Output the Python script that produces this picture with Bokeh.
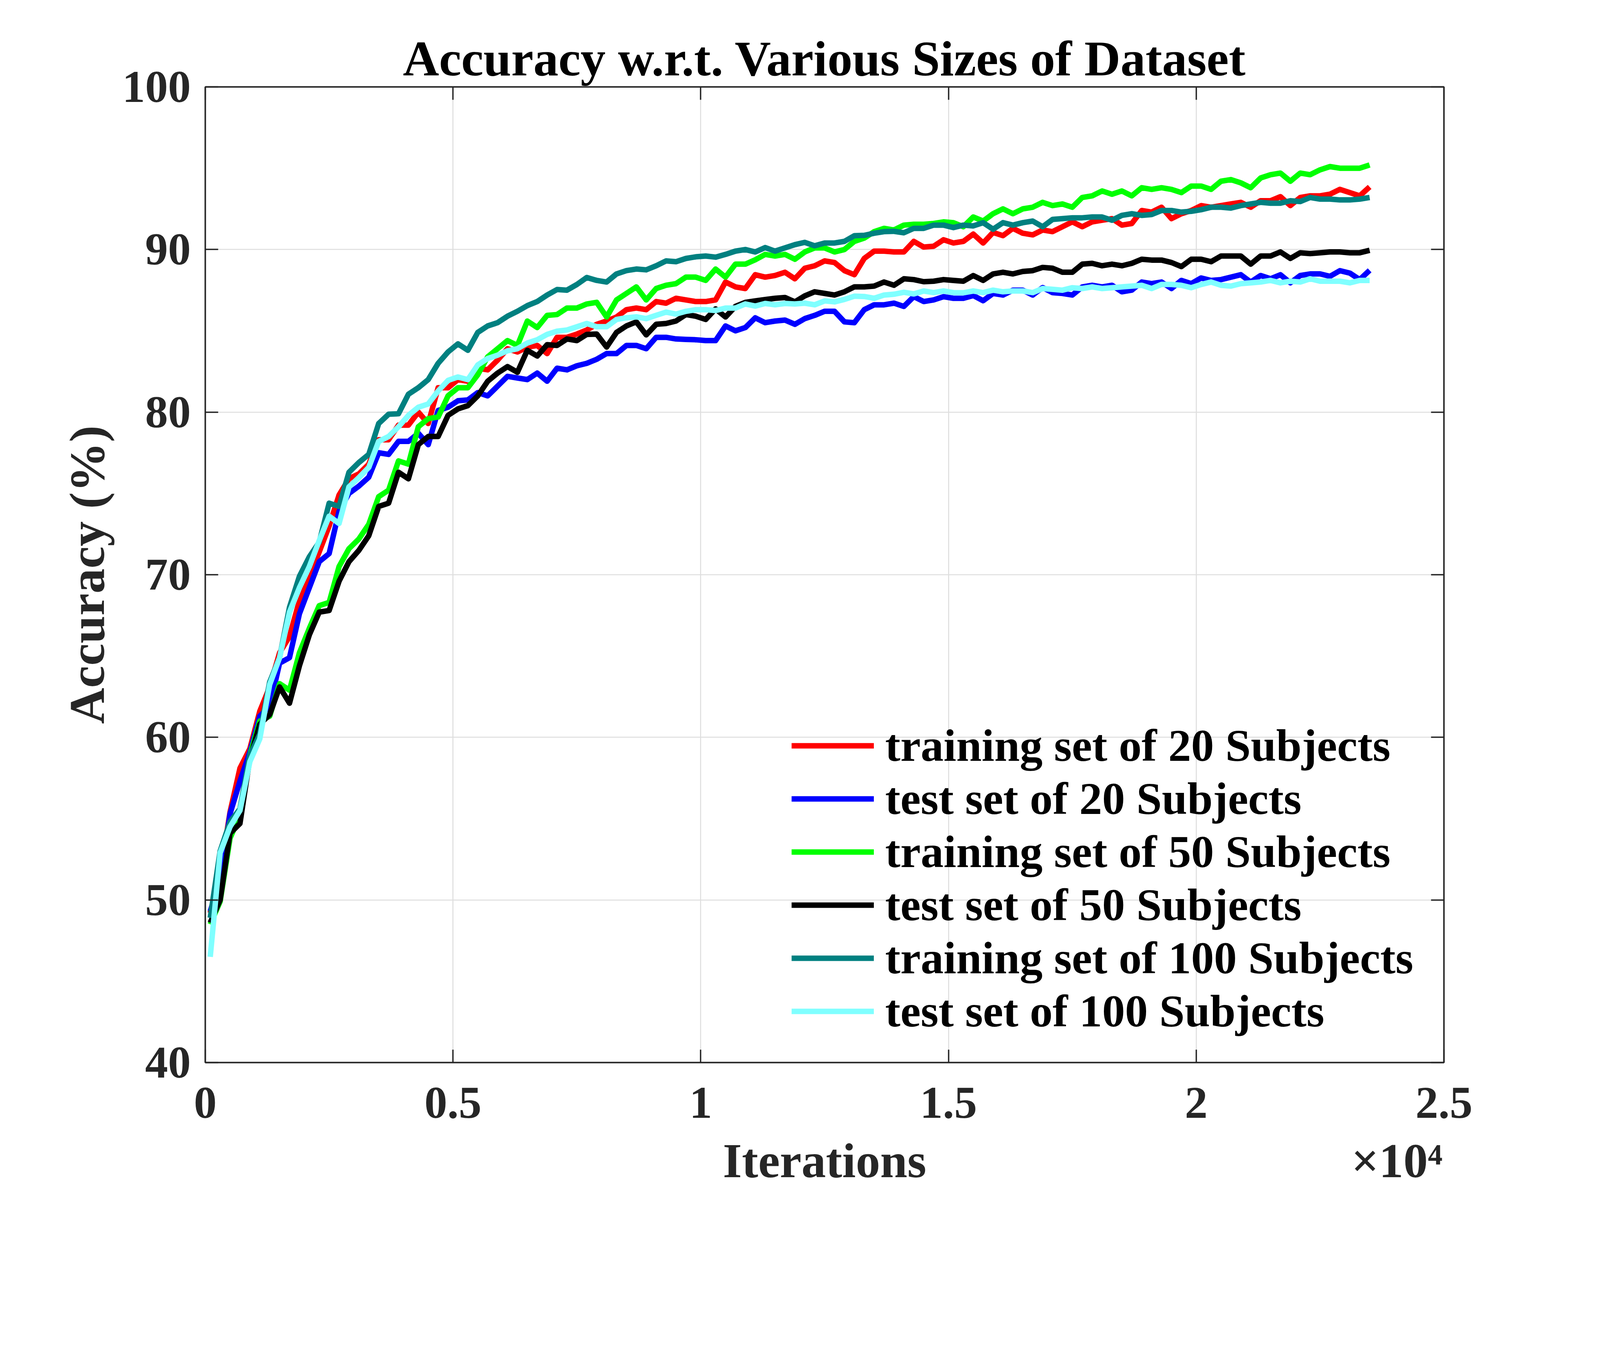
from bokeh.plotting import figure
from bokeh.models import LinearAxis, FixedTicker, Legend, LegendItem, Range1d
from bokeh.embed import file_html
from bokeh.resources import INLINE

# ---------------- data ----------------
iterations = list(range(100, 23600, 200))

train_20 = [49.2, 51.6, 55.4, 58.1, 59.3, 61.6, 63.1, 65.2, 66.2, 68.4, 69.9, 71.4, 73.0, 74.9, 75.9, 76.2, 76.8, 78.3,
            78.3, 79.2, 79.2, 80.0, 79.3, 81.5, 81.5, 82.0, 81.9, 82.7, 82.6, 83.2, 83.9, 83.7, 84.0, 84.1, 83.6, 84.6,
            84.6, 84.8, 85.05, 85.4, 85.6, 85.85, 86.3, 86.4, 86.3,
            86.8, 86.7, 87.0, 86.9, 86.8, 86.8, 86.9, 88.0, 87.7, 87.6, 88.45, 88.3, 88.4, 88.6, 88.2, 88.85, 89.0, 89.3,
            89.2, 88.7, 88.45, 89.45, 89.9, 89.9, 89.85, 89.85, 90.5, 90.15, 90.2, 90.6, 90.4, 90.5, 90.95, 90.4, 91.05, 90.85,
            91.3, 91.0, 90.9, 91.2, 91.1, 91.4, 91.7, 91.4, 91.7, 91.8, 91.9, 91.5, 91.6, 92.4, 92.3, 92.6, 91.9, 92.2,
            92.4, 92.7, 92.6, 92.7, 92.8, 92.9, 92.6, 93.0, 93.0, 93.25, 92.7, 93.2, 93.3, 93.3, 93.4, 93.7, 93.5, 93.3, 93.85]

test_20 = [49.3, 51.2, 55.3, 57.3, 59.1, 61.3, 61.9, 64.56, 64.9, 67.6, 69.2, 70.8, 71.3, 73.9, 75.0, 75.45, 76.0, 77.5,
           77.4, 78.2, 78.2, 78.7, 78.0, 80.1, 80.3, 80.7, 80.75, 81.2, 81.0, 81.6, 82.2, 82.1, 82.0, 82.4, 81.9, 82.7,
           82.6, 82.85, 83.0, 83.25, 83.6, 83.6, 84.1, 84.1, 83.9,
           84.6, 84.6, 84.5, 84.47, 84.45, 84.4, 84.4, 85.3, 85.0, 85.2, 85.8, 85.5, 85.6, 85.66, 85.4, 85.75, 85.95, 86.2,
           86.2, 85.55, 85.5, 86.3, 86.6, 86.6, 86.7, 86.5, 87.1, 86.8, 86.9, 87.1, 87.0, 87.0, 87.17, 86.85, 87.3, 87.2,
           87.5, 87.5, 87.2, 87.66, 87.35, 87.3, 87.2, 87.7, 87.8, 87.7, 87.8, 87.4, 87.5, 88.0, 87.9, 88.0, 87.6, 88.1,
           87.9, 88.25, 88.1, 88.15, 88.3, 88.45, 88.0, 88.4, 88.2, 88.45, 87.95, 88.4, 88.5, 88.5, 88.35, 88.7, 88.55, 88.15, 88.72]

train_50 = [48.5, 49.9, 53.8, 55.2, 58.9, 61.0, 61.3, 63.3, 62.9, 65.2, 66.7, 68.1, 68.3, 70.5, 71.6, 72.2, 73.1, 74.8,
            75.2, 77.0, 76.8, 79.1, 79.6, 79.7, 81.0, 81.5, 81.5, 82.3, 83.4, 83.9, 84.4, 84.1, 85.6, 85.2, 85.95, 86.0,
            86.4, 86.4, 86.65, 86.75, 85.85, 86.9, 87.3, 87.7, 86.9,
            87.6, 87.8, 87.9, 88.3, 88.3, 88.1, 88.8, 88.3, 89.1, 89.1, 89.37, 89.7, 89.6, 89.7, 89.4, 89.85, 90.1, 90.1,
            89.85, 90.0, 90.5, 90.7, 91.1, 91.3, 91.2, 91.5, 91.55, 91.55, 91.6, 91.7, 91.65, 91.4, 92.0, 91.75, 92.2, 92.5,
            92.2, 92.5, 92.6, 92.9, 92.7, 92.8, 92.6, 93.2, 93.3, 93.6, 93.4, 93.6, 93.3, 93.8, 93.7, 93.8, 93.7, 93.5,
            93.9, 93.9, 93.7, 94.2, 94.3, 94.1, 93.8, 94.4, 94.6, 94.7, 94.2, 94.7, 94.6, 94.9, 95.1, 95.0, 95.0, 95.0, 95.2]

test_50 = [48.6, 50.0, 54.1, 54.7, 58.7, 60.8, 61.4, 63.1, 62.1, 64.4, 66.3, 67.7, 67.8, 69.6, 70.8, 71.5, 72.4, 74.2,
           74.4, 76.3, 75.9, 78.0, 78.5, 78.5, 79.8, 80.2, 80.4, 81.0, 81.9, 82.4, 82.8, 82.45, 83.8, 83.45, 84.15, 84.1,
           84.5, 84.4, 84.78, 84.8, 84.0, 84.9, 85.3, 85.55, 84.75,
           85.4, 85.45, 85.6, 86.0, 85.9, 85.7, 86.35, 85.85, 86.5, 86.75, 86.84, 86.92, 87.0, 87.05, 86.78, 87.15, 87.4, 87.3,
           87.2, 87.4, 87.7, 87.7, 87.75, 88.0, 87.8, 88.2, 88.15, 88.02, 88.05, 88.15, 88.1, 88.05, 88.4, 88.1, 88.5, 88.6,
           88.5, 88.65, 88.7, 88.9, 88.85, 88.6, 88.6, 89.1, 89.15, 89.0, 89.1, 89.0, 89.15, 89.4, 89.35, 89.35, 89.2, 88.95,
           89.4, 89.4, 89.25, 89.6, 89.6, 89.6, 89.1, 89.6, 89.6, 89.85, 89.45, 89.8, 89.75, 89.8, 89.85, 89.85, 89.8, 89.8, 89.95]

train_100 = [48.9, 53.0, 54.8, 55.6, 58.9, 60.2, 63.4, 64.9, 68.0, 69.9, 71.1, 72.0, 74.4, 74.2, 76.3, 76.9, 77.4, 79.3,
             79.87, 79.9, 81.1, 81.5, 82.0, 83.0, 83.7, 84.2, 83.8, 84.9, 85.3, 85.5, 85.9, 86.2, 86.55, 86.8, 87.2, 87.54,
             87.5, 87.85, 88.28, 88.1, 88.0, 88.5, 88.7, 88.8, 88.75,
             89.0, 89.3, 89.25, 89.45, 89.55, 89.6, 89.53, 89.7, 89.9, 90.0, 89.85, 90.12, 89.9, 90.1, 90.3, 90.44, 90.23, 90.4,
             90.4, 90.5, 90.85, 90.87, 91.0, 91.1, 91.12, 91.03, 91.3, 91.3, 91.5, 91.5, 91.35, 91.5, 91.45, 91.65, 91.25, 91.65,
             91.5, 91.65, 91.75, 91.4, 91.85, 91.9, 91.95, 91.95, 92.0, 92.0, 91.8, 92.1, 92.2, 92.1, 92.15, 92.4, 92.4, 92.3,
             92.35, 92.45, 92.6, 92.6, 92.55, 92.7, 92.8, 92.9, 92.85, 92.85, 93.0, 92.95, 93.2, 93.1, 93.1, 93.05, 93.05, 93.1, 93.2]

test_100 = [46.5, 52.9, 54.5, 55.5, 58.5, 59.9, 63.25, 64.9, 67.7, 69.2, 70.5, 72.1, 73.6, 73.15, 75.4, 75.97, 76.6, 78.2,
            78.5, 79.1, 79.8, 80.3, 80.5, 81.3, 81.95, 82.16, 82.0, 82.9, 83.3, 83.5, 83.77, 83.9, 84.25, 84.45, 84.78, 84.98,
            85.05, 85.25, 85.45, 85.25, 85.25, 85.7, 85.8, 85.86, 85.75,
            85.95, 86.15, 86.03, 86.2, 86.3, 86.3, 86.25, 86.4, 86.4, 86.65, 86.52, 86.68, 86.6, 86.68, 86.65, 86.7, 86.6, 86.84,
            86.78, 86.93, 87.13, 87.11, 87.0, 87.2, 87.25, 87.37, 87.27, 87.45, 87.35, 87.45, 87.35, 87.34, 87.45, 87.35, 87.5, 87.4,
            87.45, 87.45, 87.35, 87.6, 87.55, 87.5, 87.65, 87.6, 87.7, 87.6, 87.65, 87.7, 87.75, 87.8, 87.6, 87.85, 87.85, 87.8,
            87.65, 87.85, 88.0, 87.8, 87.75, 87.9, 87.95, 88.0, 88.1, 87.95, 88.05, 88.0, 88.2, 88.05, 88.05, 88.05, 87.95, 88.1, 88.1]

series_labels = ["training set of 20 Subjects", "test set of 20 Subjects",
                 "training set of 50 Subjects", "test set of 50 Subjects",
                 "training set of 100 Subjects", "test set of 100 Subjects"]
series_values = [train_20, test_20, train_50, test_50, train_100, test_100]
series_colors = ["#ff0000", "#0000ff", "#00ff00", "#000000", "#008080", "#80ffff"]

x_ticks = [0, 5000, 10000, 15000, 20000, 25000]
x_tick_labels = ["0", "0.5", "1", "1.5", "2", "2.5"]
y_ticks = [40, 50, 60, 70, 80, 90, 100]

x_title = "Iterations"
x_scale_text = "×10⁴"
y_title = "Accuracy (%)"
plot_title = "Accuracy w.r.t. Various Sizes of Dataset"

FONT = "Liberation Serif"
AX = "#262626"

# ---------------- figure ----------------
p = figure(frame_width=3171, frame_height=2498,
           x_range=Range1d(0, 25000), y_range=Range1d(40, 100),
           output_backend="svg", toolbar_location=None,
           min_border_left=525, min_border_top=222, min_border_right=340, min_border_bottom=300,
           background_fill_color="white", border_fill_color="white")

p.title.text = plot_title
p.title.align = "center"
p.title.text_font = FONT
p.title.text_font_style = "bold"
p.title.text_font_size = "128px"
p.title.text_color = "black"
p.title.standoff = 4

p.outline_line_color = AX
p.outline_line_width = 3.5

xt = FixedTicker(ticks=x_ticks)
yt = FixedTicker(ticks=y_ticks)

for ax in (p.xaxis[0], p.yaxis[0]):
    ax.major_tick_in = 33
    ax.major_tick_out = 0
    ax.minor_tick_line_color = None
    ax.axis_line_color = AX
    ax.axis_line_width = 3.5
    ax.major_tick_line_color = AX
    ax.major_tick_line_width = 3.5
    ax.major_label_text_font = FONT
    ax.major_label_text_font_style = "bold"
    ax.major_label_text_font_size = "117px"
    ax.major_label_text_color = AX
    ax.axis_label_text_font = FONT
    ax.axis_label_text_font_style = "bold"
    ax.axis_label_text_font_size = "128px"
    ax.axis_label_text_color = AX

p.xaxis.ticker = xt
p.xaxis.major_label_overrides = {t: s for t, s in zip(x_ticks, x_tick_labels)}
p.xaxis.major_label_standoff = 64

p.yaxis.ticker = yt
p.yaxis.axis_label = y_title
p.yaxis.major_label_standoff = 37
p.yaxis.axis_label_standoff = 16

# second row under the x tick labels: axis title in the middle, scale factor at the right end
title_pos = [12500, 24050]
lab_ax = LinearAxis(ticker=FixedTicker(ticks=title_pos),
                    major_label_overrides={title_pos[0]: x_title, title_pos[1]: x_scale_text},
                    axis_line_color=None, major_tick_line_color=None, minor_tick_line_color=None,
                    major_tick_in=0, major_tick_out=0,
                    major_label_text_font=FONT, major_label_text_font_style="bold",
                    major_label_text_font_size="125px", major_label_text_color=AX,
                    major_label_standoff=38)
p.add_layout(lab_ax, "below")

for side, tk in (("above", xt), ("right", yt)):
    ax = LinearAxis(ticker=tk, major_tick_in=33, major_tick_out=0,
                    minor_tick_line_color=None, axis_line_color=AX, axis_line_width=3.5,
                    major_tick_line_color=AX, major_tick_line_width=3.5,
                    major_label_text_color=None, major_label_text_font_size="1px",
                    major_label_standoff=0)
    p.add_layout(ax, side)

p.xgrid.ticker = xt
p.ygrid.ticker = yt
p.xgrid.grid_line_color = "#dedede"
p.ygrid.grid_line_color = "#dedede"
p.xgrid.grid_line_width = 2.6
p.ygrid.grid_line_width = 2.6

items = []
for lab, vals, col in zip(series_labels, series_values, series_colors):
    r = p.line(iterations, vals, line_color=col, line_width=14, line_join="round")
    items.append(LegendItem(label=lab, renderers=[r]))

legend = Legend(items=items, location=(1501, 64), orientation="vertical",
                label_text_font=FONT, label_text_font_style="bold", label_text_font_size="117px",
                label_text_color="black", glyph_width=211, glyph_height=36, label_standoff=29,
                spacing=2, padding=0, margin=0, border_line_alpha=0, background_fill_alpha=0)
p.add_layout(legend, "center")

open("out.html", "w").write(file_html(p, INLINE))
